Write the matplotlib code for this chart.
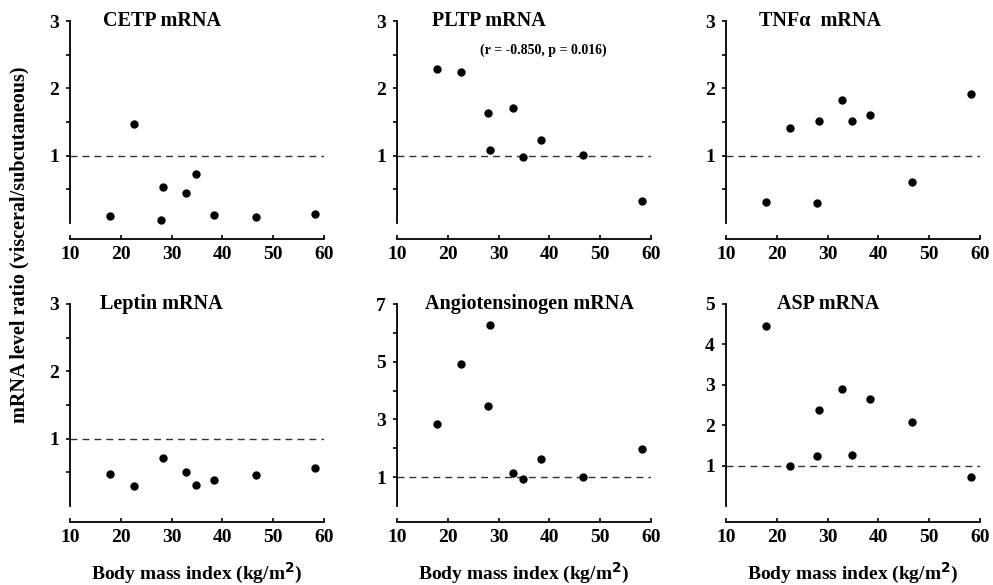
import matplotlib
matplotlib.use("Agg")
import matplotlib.pyplot as plt
import numpy as np

# body mass index of the patients (kg/m2), shared by all panels
BMI = [17.9, 22.6, 28.0, 28.4, 32.8, 34.9, 38.3, 46.6, 58.3]

CETP = [0.11, 1.47, 0.04, 0.53, 0.45, 0.73, 0.12, 0.09, 0.13]
PLTP = [2.29, 2.25, 1.64, 1.08, 1.71, 0.98, 1.23, 1.01, 0.32]
TNFA = [0.31, 1.41, 0.29, 1.52, 1.82, 1.52, 1.60, 0.61, 1.91]
LEPTIN = [0.48, 0.29, np.nan, 0.71, 0.50, 0.31, 0.38, 0.46, 0.57]
ANGIO = [2.84, 4.93, 3.48, 6.27, 1.14, 0.94, 1.64, 1.00, 1.96]
ASP = [4.46, 1.00, 1.23, 2.38, 2.89, 1.27, 2.66, 2.08, 0.71]

TITLES = ["CETP mRNA", "PLTP mRNA", "TNF\u03b1  mRNA",
          "Leptin mRNA", "Angiotensinogen mRNA", "ASP mRNA"]
SERIES = [CETP, PLTP, TNFA, LEPTIN, ANGIO, ASP]
YMAX = [3, 3, 3, 3, 7, 5]
YMAJOR = [[1, 2, 3], [1, 2, 3], [1, 2, 3], [1, 2, 3], [1, 3, 5, 7], [1, 2, 3, 4, 5]]
YMINOR = [[0.5, 1.5, 2.5]] * 4 + [[2, 4, 6], []]
XTICKS = [10, 20, 30, 40, 50, 60]

plt.rcParams.update({
    "font.family": "serif",
    "font.serif": ["Liberation Serif", "DejaVu Serif"],
    "font.weight": "bold",
})

fig = plt.figure(figsize=(9.93, 5.85), dpi=100, facecolor="white")

W, H = 993, 585
lefts = [70, 397, 726]
tops = [21, 304]
aw, ah = 254, 202
title_x = [0.13, 0.137, 0.128, 0.12, 0.11, 0.20]

for i in range(6):
    r, c = divmod(i, 3)
    l = lefts[c]
    t = tops[r]
    ax = fig.add_axes([l / W, 1 - (t + ah) / H, aw / W, ah / H])
    ax.set_xlim(10, 60)
    ax.set_ylim(0, YMAX[i])

    ax.axhline(1, color="#333333", lw=1.0, linestyle=(0, (5, 3.6)), zorder=1)
    ax.plot(BMI, SERIES[i], "o", color="black", ms=5, clip_on=False, zorder=3)

    for s in ("top", "right"):
        ax.spines[s].set_visible(False)
    ax.spines["left"].set_bounds(0, YMAX[i])
    ax.spines["left"].set_linewidth(1.3)
    ax.spines["bottom"].set_position(("outward", 11.5))
    ax.spines["bottom"].set_linewidth(1.3)

    ax.set_xticks(XTICKS)
    ax.set_yticks(YMAJOR[i])
    ax.set_yticks(YMINOR[i], minor=True)
    ax.tick_params(axis="x", direction="in", length=3, width=1.2,
                   labelsize=14, pad=5)
    ax.tick_params(axis="y", which="both", direction="out", length=3,
                   width=1.2, labelsize=14, pad=5)
    for lab in ax.get_xticklabels() + ax.get_yticklabels():
        lab.set_fontweight("bold")

    ax.text(title_x[i], 1.0, TITLES[i], transform=ax.transAxes,
            fontsize=14.5, fontweight="bold", ha="left", va="center")

    if r == 1:
        ax.set_xlabel("Body mass index (kg/m$^{\\mathbf{2}}$)", fontsize=14,
                      fontweight="bold", labelpad=11)

    if i == 1:
        ax.text(0.576, 0.856, "(r = -0.850, p = 0.016)", transform=ax.transAxes,
                fontsize=10, fontweight="bold", ha="center", va="center")

fig.text(0.02, 1 - 245 / H, "mRNA level ratio (visceral/subcutaneous)",
         rotation=90, ha="center", va="center", fontsize=14.5, fontweight="bold")

fig.savefig("out.png", dpi=100, facecolor="white")
